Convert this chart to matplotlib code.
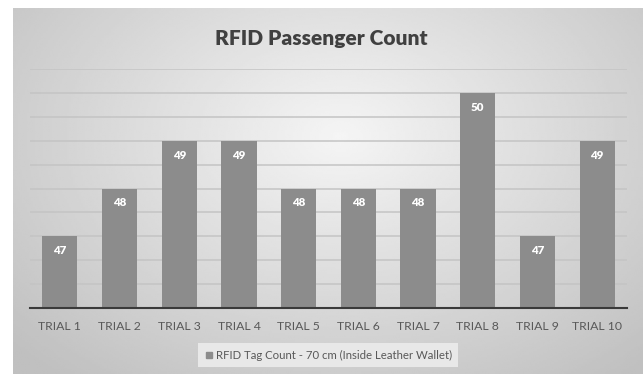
import matplotlib.pyplot as plt
import numpy as np
from matplotlib.lines import Line2D

TRIALS = [f"TRIAL {k}" for k in range(1, 11)]
COUNTS = [47, 48, 49, 49, 48, 48, 48, 50, 47, 49]
SERIES = "RFID Tag Count - 70 cm (Inside Leather Wallet)"
TITLE = "RFID Passenger Count"

W, H = 643, 374
fig = plt.figure(figsize=(W / 100, H / 100), dpi=100)
fig.patch.set_facecolor("white")

# radial grey backdrop of the chart area
bg = fig.add_axes([13 / W, 0, 1 - 13 / W, 1 - 8 / H])
yy, xx = np.mgrid[0:1:200j, 0:1:300j]
r = np.sqrt(((xx - 0.52) / 0.75) ** 2 + ((yy - 0.35) / 0.9) ** 2)
shade = np.clip(0.96 - 0.22 * r, 0.75, 0.96)
bg.imshow(shade, cmap="gray", vmin=0, vmax=1, aspect="auto",
          extent=[0, 1, 1, 0], interpolation="bilinear")
bg.set_axis_off()

ax = fig.add_axes([30 / W, 1 - 308 / H, 597 / W, 239 / H])
ax.patch.set_alpha(0)
x = np.arange(len(TRIALS))
ax.set_ylim(45.5, 50.5)
ax.set_xlim(-0.5, len(TRIALS) - 0.5)
ax.set_yticks(np.arange(45.5, 50.51, 0.5))
ax.yaxis.grid(True, color="#c4c4c4", lw=1.1)
ax.set_axisbelow(True)
bars = ax.bar(x, COUNTS, width=0.59, color="#8c8c8c", zorder=2)
for b, v in zip(bars, COUNTS):
    ax.text(b.get_x() + b.get_width() / 2, v - 0.30, str(v), ha="center", va="center",
            color="white", fontsize=8.3, fontweight="heavy", family="Lato")

for s in ["top", "right", "left"]:
    ax.spines[s].set_visible(False)
ax.spines["bottom"].set_color("#3a3a3a")
ax.spines["bottom"].set_linewidth(1.5)
ax.tick_params(axis="y", left=False, labelleft=False)
ax.tick_params(axis="x", length=0, pad=9)
ax.set_xticks(x)
ax.set_xticklabels(TRIALS, fontsize=8.8, color="#595959", family="Lato")

fig.text(0.5, 1 - 38 / H, TITLE, ha="center", va="center", fontsize=15,
         fontweight="heavy", color="#404040", family="Lato")

handle = Line2D([], [], marker="s", ls="", color="#8c8c8c", markersize=5)
leg = fig.legend([handle], [SERIES], loc="center", bbox_to_anchor=(328 / W, 1 - 355 / H),
                 frameon=True, fancybox=False, handletextpad=0.2, borderpad=0.55,
                 handlelength=0.8, prop={"family": "Lato", "size": 8.2})
leg.get_frame().set_facecolor("#e8e8e8")
leg.get_frame().set_edgecolor("none")
leg.get_frame().set_alpha(1)
for t in leg.get_texts():
    t.set_color("#595959")

fig.savefig("out.png", dpi=100)
